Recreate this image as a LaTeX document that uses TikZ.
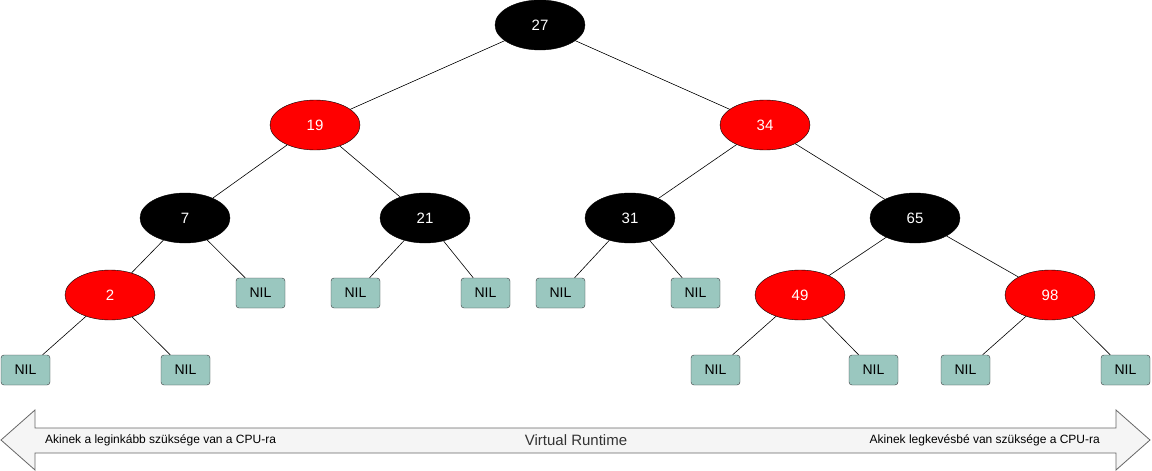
\documentclass[tikz,border=0pt]{standalone}
\usepackage{fontspec}
\setmainfont{Liberation Sans}
\usetikzlibrary{shapes.geometric}
\definecolor{nilfill}{HTML}{9AC7BF}
\definecolor{nildraw}{HTML}{36393D}
\definecolor{arrfill}{HTML}{F5F5F5}
\definecolor{arrdraw}{HTML}{666666}
\tikzset{
    blacknode/.style={ellipse, draw=black, fill=black, text=white, minimum width=90pt, minimum height=50pt, inner sep=0pt, font=\fontsize{15}{18}\selectfont},
    rednode/.style={blacknode, fill=red},
    nilbox/.style={rectangle, rounded corners=3pt, draw=nildraw, fill=nilfill, minimum width=49pt, minimum height=30pt, inner sep=0pt, font=\fontsize{14}{16}\selectfont},
    edge/.style={draw=black, line width=0.6pt}
}
\begin{document}
\begin{tikzpicture}[x=1pt, y=-1pt]
    \useasboundingbox (0,0) rectangle (1152,471);
    % Runtime arrow
    \def\Ytop{428}
    \def\Ybot{453}
    \draw[draw=arrdraw, fill=arrfill, line width=0.8pt]
        (1,440) -- (35,410) -- (35,\Ytop) -- (1116,\Ytop) -- (1116,410) -- (1150,440)
        -- (1116,470) -- (1116,\Ybot) -- (35,\Ybot) -- (35,470) -- cycle;
    \node[anchor=west, inner sep=0pt, font=\fontsize{12}{14}\selectfont] (most) at (45,440) {Akinek a leginkább szüksége van a CPU-ra};
    \node[font=\fontsize{15}{17}\selectfont, text=black!80] (vrt) at (576,440) {Virtual Runtime};
    \node[anchor=east, inner sep=0pt, font=\fontsize{12}{14}\selectfont] (least) at (1100,440) {Akinek legkevésbé van szüksége a CPU-ra};

    % Tree nodes
    \node[blacknode] (n27) at (540,25) {27};
    \node[rednode] (n19) at (315,125) {19};
    \node[rednode] (n34) at (765,125) {34};
    \node[blacknode] (n7) at (185,218) {7};
    \node[blacknode] (n21) at (425,218) {21};
    \node[blacknode] (n31) at (630,218) {31};
    \node[blacknode] (n65) at (915,218) {65};
    \node[rednode] (n2) at (110,295) {2};
    \node[rednode] (n49) at (800,295) {49};
    \node[rednode] (n98) at (1050,295) {98};

    % Leaves
    \node[nilbox] (nil7) at (260.5,293) {NIL};
    \node[nilbox] (nil21a) at (355.5,293) {NIL};
    \node[nilbox] (nil21b) at (485.5,293) {NIL};
    \node[nilbox] (nil31a) at (560.5,293) {NIL};
    \node[nilbox] (nil31b) at (695.5,293) {NIL};
    \node[nilbox] (nil2a) at (25.5,370) {NIL};
    \node[nilbox] (nil2b) at (185.5,370) {NIL};
    \node[nilbox] (nil49a) at (715.5,370) {NIL};
    \node[nilbox] (nil49b) at (873.5,370) {NIL};
    \node[nilbox] (nil98a) at (965.5,370) {NIL};
    \node[nilbox] (nil98b) at (1125.5,370) {NIL};

    % Edges
    \foreach \a/\b in {n27/n19, n27/n34, n19/n7, n19/n21, n34/n31, n34/n65,
                       n7/n2, n7/nil7, n21/nil21a, n21/nil21b, n31/nil31a, n31/nil31b,
                       n65/n49, n65/n98, n2/nil2a, n2/nil2b, n49/nil49a, n49/nil49b,
                       n98/nil98a, n98/nil98b}
        \draw[edge] (\a) -- (\b);
\end{tikzpicture}
\end{document}
